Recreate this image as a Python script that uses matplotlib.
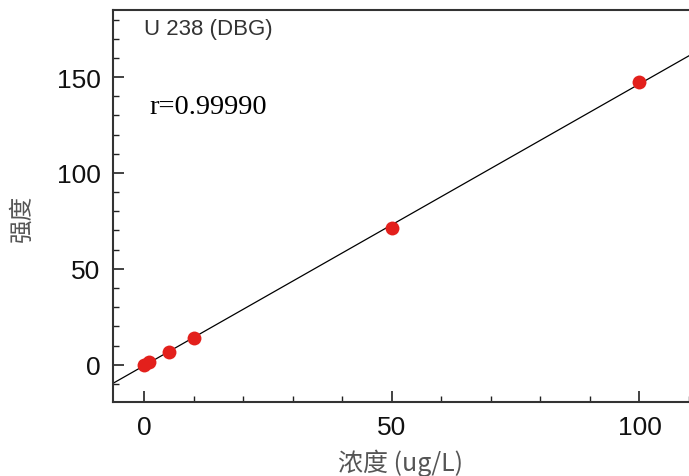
import numpy as np
import matplotlib
matplotlib.use("Agg")
import matplotlib.pyplot as plt
from matplotlib.ticker import MultipleLocator

conc = [0, 1, 5, 10, 50, 100]
intensity = [0.0, 1.4, 6.8, 14.0, 71.2, 147.3]
x_ticks = [0, 50, 100]
y_ticks = [0, 50, 100, 150]
title = "U 238 (DBG)"
r_text = "r=0.99990"
xlabel = "浓度 (ug/L)"
ylabel = "强度"

fig = plt.figure(figsize=(6.89, 4.77), dpi=100)
ax = fig.add_axes([0.164, 0.155, 0.836, 0.822])

xlim = (-6.25, 110)
ylim = (-19.5, 185)
ax.set_xlim(*xlim)
ax.set_ylim(*ylim)

slope, intercept = np.polyfit(conc, intensity, 1)
xx = np.array(xlim)
ax.plot(xx, slope * xx + intercept, color="black", lw=0.9, zorder=2)
ax.plot(conc, intensity, "o", color="#e3201c", markersize=10, mec="none", zorder=3)

ax.set_xticks(x_ticks)
ax.set_yticks(y_ticks)
ax.xaxis.set_minor_locator(MultipleLocator(10))
ax.yaxis.set_minor_locator(MultipleLocator(10))
ax.tick_params(which="major", direction="in", length=8, width=1.2, color="#222",
               labelsize=19, pad=9, labelcolor="#111")
ax.tick_params(which="minor", direction="in", length=4, width=1.0, color="#222")
ax.tick_params(axis="x", which="both", top=False)
ax.tick_params(axis="y", which="both", right=False)
for lab in ax.get_xticklabels() + ax.get_yticklabels():
    lab.set_family(["Liberation Sans"])
ax.spines["right"].set_visible(False)
for s in ["left", "bottom", "top"]:
    ax.spines[s].set_color("#333")
    ax.spines[s].set_linewidth(1.5)

ax.text(0.053, 0.98, title, transform=ax.transAxes, ha="left", va="top",
        fontsize=16, color="#333", family=["Liberation Sans"])
ax.text(0.064, 0.755, r_text, transform=ax.transAxes, ha="left", va="center",
        fontsize=20.5, color="black", family=["Liberation Serif"])

fig.text(0.582, 0.029, xlabel, ha="center", va="center", fontsize=18, color="#555",
         family=["Noto Sans CJK SC", "DejaVu Sans"], fontweight="light")
fig.text(0.032, 0.543, ylabel, ha="center", va="center", rotation=90, fontsize=17,
         color="#555", family=["Noto Sans CJK SC", "DejaVu Sans"], fontweight="light")

fig.savefig("out.png", dpi=100)
